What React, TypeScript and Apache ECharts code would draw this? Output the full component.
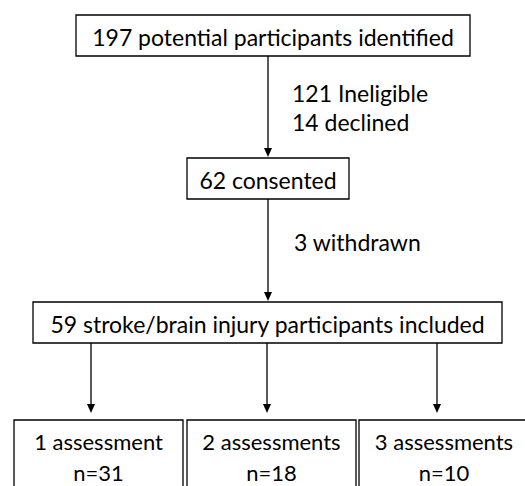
import React, { useEffect, useRef } from "react";
import * as echarts from "echarts";

// Flow counts
const identifiedCount = 197;
const ineligibleCount = 121;
const declinedCount = 14;
const consentedCount = 62;
const withdrawnCount = 3;
const includedCount = 59;

const stageLabels = [
  `${identifiedCount} potential participants identified`,
  `${consentedCount} consented`,
  `${includedCount} stroke/brain injury participants included`,
];
const exclusionNotes = [
  [`${ineligibleCount} Ineligible`, `${declinedCount} declined`],
  [`${withdrawnCount} withdrawn`],
];
const groupLabels = ["1 assessment", "2 assessments", "3 assessments"];
const groupCounts = [31, 18, 10];

const FONT = "Lato, 'Open Sans', sans-serif";
const FS = 23;

export default function App() {
  const ref = useRef<HTMLDivElement>(null);
  useEffect(() => {
    document.body.style.margin = "0";
    if (!ref.current) return;
    const chart = echarts.init(ref.current, undefined, { renderer: "svg" });
    const stroke = { stroke: "#000", lineWidth: 1.3 };
    const els: any[] = [];
    const box = (x: number, y: number, w: number, h: number) =>
      els.push({ type: "rect", shape: { x, y, width: w, height: h }, style: { fill: "#fff", ...stroke } });
    const txt = (x: number, y: number, t: string, align = "center", fs = FS) =>
      els.push({
        type: "text",
        x,
        y,
        style: { text: t, fill: "#000", font: `${fs}px ${FONT}`, align, verticalAlign: "middle" },
      });
    const arrow = (x: number, y1: number, y2: number) => {
      els.push({ type: "line", shape: { x1: x, y1, x2: x, y2: y2 - 6 }, style: stroke });
      els.push({
        type: "polygon",
        shape: { points: [[x - 4, y2 - 9], [x + 4, y2 - 9], [x, y2]] },
        style: { fill: "#000" },
      });
    };

    // stage boxes
    const stageBoxes = [
      [76, 15, 394, 41],
      [187, 158, 162, 41],
      [33, 302, 469, 41],
    ];
    stageBoxes.forEach(([x, y, w, h], i) => {
      box(x, y, w, h);
      txt(x + w / 2, y + h / 2 + 1, stageLabels[i]);
    });
    arrow(268, 56, 157);
    arrow(268, 199, 301);
    exclusionNotes[0].forEach((t, i) => txt(292, 93 + i * 29, t, "left"));
    exclusionNotes[1].forEach((t, i) => txt(294, 242 + i * 29, t, "left"));

    // groups
    const groupBoxes = [
      [14, 169],
      [187, 169],
      [359, 170],
    ];
    const branchX = [91, 267, 437];
    branchX.forEach((x) => arrow(x, 343, 413));
    groupBoxes.forEach(([x, w], i) => {
      box(x, 420, w, 80);
      txt(x + w / 2, 441, groupLabels[i], "center", 22);
      txt(x + w / 2, 472, `n=${groupCounts[i]}`, "center", 22);
    });

    chart.setOption({ animation: false, graphic: { elements: els } });
    return () => chart.dispose();
  }, []);
  return <div ref={ref} style={{ width: 525, height: 486, background: "#fff" }} />;
}
